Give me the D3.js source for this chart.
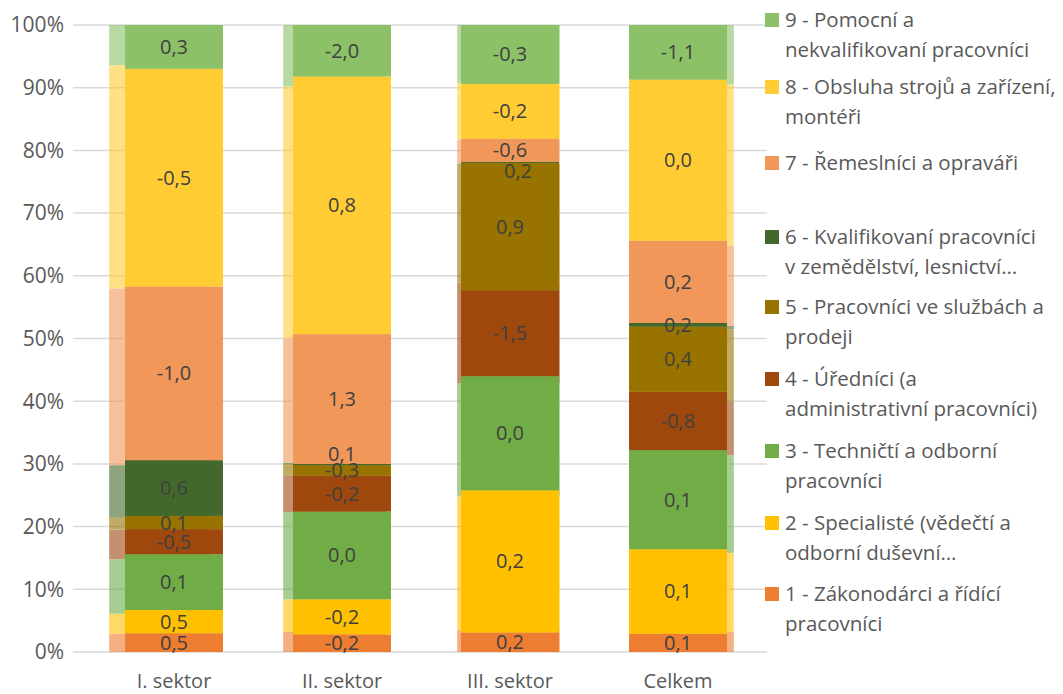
<!DOCTYPE html>
<html lang="cs">
<head>
<meta charset="UTF-8">
<title>Struktura zaměstnanosti podle CZ-ISCO</title>
<script src="https://d3js.org/d3.v7.min.js"></script>
<style>
    body { margin: 0; background: #fff; }
    svg text { font-family: "Open Sans", "Noto Sans", sans-serif; }
    .tick-label { fill: #595959; font-size: 21px; }
    .cat-label { fill: #595959; font-size: 20px; }
    .data-label { fill: #404040; font-size: 20px; }
    .legend-label { fill: #595959; font-size: 20.5px; }
</style>
</head>
<body>
<div id="chart"></div>
<script>
    const categories = ["I. sektor", "II. sektor", "III. sektor", "Celkem"];
    const seriesKeys = ["s1", "s2", "s3", "s4", "s5", "s6", "s7", "s8", "s9"];

    // legend text, one array per series (lines as wrapped in the picture)
    const legendLines = [
        ["1 - Zákonodárci a řídící", "pracovníci"],
        ["2 - Specialisté (vědečtí a", "odborní duševní…"],
        ["3 - Techničtí a odborní", "pracovníci"],
        ["4 - Úředníci (a", "administrativní pracovníci)"],
        ["5 - Pracovníci ve službách a", "prodeji"],
        ["6 - Kvalifikovaní pracovníci", "v zemědělství, lesnictví…"],
        ["7 - Řemeslníci a opraváři"],
        ["8 - Obsluha strojů a zařízení,", "montéři"],
        ["9 - Pomocní a", "nekvalifikovaní pracovníci"]
    ];

    const colors = ["#ED7D31", "#FFC000", "#70AD47", "#9E480E", "#997300",
                    "#43682B", "#F1975A", "#FFCD33", "#8CC168"];

    // current shares (%), per series across categories
    const cur1 = [3.0, 2.8, 3.1, 2.9];
    const cur2 = [3.7, 5.6, 22.7, 13.5];
    const cur3 = [8.9, 14.0, 18.2, 15.8];
    const cur4 = [4.0, 5.7, 13.7, 9.3];
    const cur5 = [2.1, 1.7, 20.3, 10.4];
    const cur6 = [8.9, 0.2, 0.2, 0.6];
    const cur7 = [27.7, 20.7, 3.7, 13.1];
    const cur8 = [34.7, 41.1, 8.7, 25.7];
    const cur9 = [7.0, 8.2, 9.4, 8.7];

    // earlier shares (%), drawn faded behind
    const prev1 = [2.9, 3.2, 3.5, 3.2];
    const prev2 = [3.2, 5.2, 21.3, 12.6];
    const prev3 = [8.7, 13.9, 18.1, 15.6];
    const prev4 = [4.7, 5.9, 16.0, 8.5];
    const prev5 = [1.9, 1.8, 18.8, 11.6];
    const prev6 = [8.4, 0.2, 0.2, 0.5];
    const prev7 = [28.2, 19.8, 3.8, 12.8];
    const prev8 = [35.6, 40.2, 9.0, 25.7];
    const prev9 = [6.4, 9.8, 9.3, 9.5];

    // change labels shown in the bars
    const chg1 = ["0,5", "-0,2", "0,2", "0,1"];
    const chg2 = ["0,5", "-0,2", "0,2", "0,1"];
    const chg3 = ["0,1", "0,0", "0,0", "0,1"];
    const chg4 = ["-0,5", "-0,2", "-1,5", "-0,8"];
    const chg5 = ["0,1", "-0,3", "0,9", "0,4"];
    const chg6 = ["0,6", "0,1", "0,2", "0,2"];
    const chg7 = ["-1,0", "1,3", "-0,6", "0,2"];
    const chg8 = ["-0,5", "0,8", "-0,2", "0,0"];
    const chg9 = ["0,3", "-2,0", "-0,3", "-1,1"];

    const yTicks = [0, 0.1, 0.2, 0.3, 0.4, 0.5, 0.6, 0.7, 0.8, 0.9, 1];

    const curSeries = [cur1, cur2, cur3, cur4, cur5, cur6, cur7, cur8, cur9];
    const prevSeries = [prev1, prev2, prev3, prev4, prev5, prev6, prev7, prev8, prev9];
    const chgSeries = [chg1, chg2, chg3, chg4, chg5, chg6, chg7, chg8, chg9];

    const toRows = arrs => categories.map((c, i) => {
        const row = { cat: c };
        seriesKeys.forEach((k, j) => row[k] = arrs[j][i]);
        return row;
    });

    const width = 1063, height = 694;
    const svg = d3.select("#chart").append("svg")
        .attr("width", width)
        .attr("height", height);

    const y = d3.scaleLinear().domain([0, 1]).range([652, 25]);
    const x = d3.scaleBand().domain(categories).range([90, 762]).paddingInner(0.417).paddingOuter(0.2085);
    const xPrev = d3.scaleBand().domain(categories).range([73.5, 769.5]).paddingInner(0.41).paddingOuter(0.205);

    const stack = d3.stack().keys(seriesKeys).offset(d3.stackOffsetExpand);
    const curStack = stack(toRows(curSeries));
    const prevStack = stack(toRows(prevSeries));

    // gridlines
    svg.append("g").selectAll("line")
        .data(yTicks)
        .join("line")
        .attr("x1", 73).attr("x2", 767)
        .attr("y1", d => y(d)).attr("y2", d => y(d))
        .attr("stroke", "#D9D9D9")
        .attr("stroke-width", 1.5);

    // y axis labels
    svg.append("g").selectAll("text")
        .data(yTicks)
        .join("text")
        .attr("class", "tick-label")
        .attr("x", 64)
        .attr("y", d => y(d))
        .attr("dy", "0.35em")
        .attr("text-anchor", "end")
        .text(d => d3.format(".0%")(d));

    // faded (earlier) bars
    svg.append("g").attr("opacity", 0.6)
        .selectAll("g")
        .data(prevStack)
        .join("g")
        .attr("fill", (d, i) => colors[i])
        .selectAll("rect")
        .data(d => d)
        .join("rect")
        .attr("x", d => xPrev(d.data.cat))
        .attr("width", xPrev.bandwidth())
        .attr("y", d => y(d[1]))
        .attr("height", d => y(d[0]) - y(d[1]));

    // current bars
    svg.append("g")
        .selectAll("g")
        .data(curStack)
        .join("g")
        .attr("fill", (d, i) => colors[i])
        .selectAll("rect")
        .data(d => d)
        .join("rect")
        .attr("x", d => x(d.data.cat))
        .attr("width", x.bandwidth())
        .attr("y", d => y(d[1]))
        .attr("height", d => y(d[0]) - y(d[1]));

    // data labels (two of them nudged as in the source to avoid overlap)
    const nudge = { "5-1": [0, -11], "5-2": [8, 9] };
    curStack.forEach((s, si) => {
        svg.append("g").selectAll("text")
            .data(s)
            .join("text")
            .attr("class", "data-label")
            .attr("text-anchor", "middle")
            .attr("dy", "0.35em")
            .attr("x", (d, ci) => x(d.data.cat) + x.bandwidth() / 2 + (nudge[si + "-" + ci] || [0, 0])[0])
            .attr("y", (d, ci) => y((d[0] + d[1]) / 2) + (nudge[si + "-" + ci] || [0, 0])[1])
            .text((d, ci) => chgSeries[si][ci]);
    });

    // category labels
    svg.append("g").selectAll("text")
        .data(categories)
        .join("text")
        .attr("class", "cat-label")
        .attr("x", d => x(d) + x.bandwidth() / 2)
        .attr("y", 681)
        .attr("dy", "0.35em")
        .attr("text-anchor", "middle")
        .text(d => d);

    // legend, top to bottom from series 9
    const legendY = [20, 87, 163, 237, 307, 379, 451, 523, 594];
    const legend = svg.append("g");
    const order = d3.range(seriesKeys.length).reverse();
    order.forEach((si, k) => {
        const g = legend.append("g").attr("transform", `translate(765,${legendY[k]})`);
        g.append("rect")
            .attr("x", 0).attr("y", -7)
            .attr("width", 14).attr("height", 14)
            .attr("fill", colors[si]);
        legendLines[si].forEach((line, li) => {
            g.append("text")
                .attr("class", "legend-label")
                .attr("x", 20)
                .attr("y", li * 30)
                .attr("dy", "0.35em")
                .text(line);
        });
    });
</script>
</body>
</html>
